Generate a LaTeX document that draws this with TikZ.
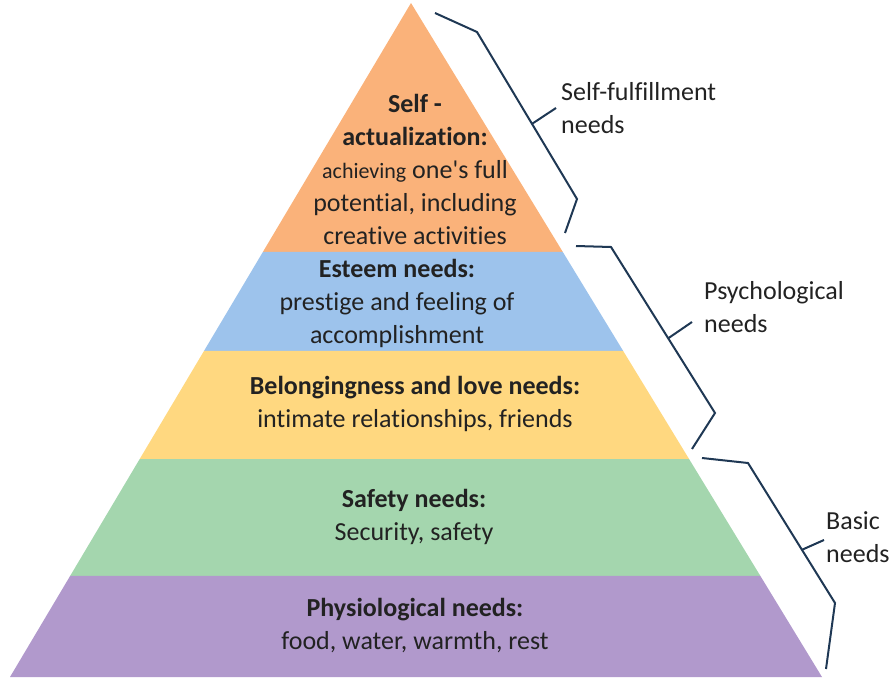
\documentclass[tikz,border=0pt]{standalone}
\usepackage{fontspec}
\setmainfont{Carlito}[Ligatures={NoCommon,TeXOff}]
\usetikzlibrary{calc}

\definecolor{selfcol}{RGB}{250,178,122}
\definecolor{esteemcol}{RGB}{157,195,236}
\definecolor{lovecol}{RGB}{255,216,128}
\definecolor{safecol}{RGB}{164,214,174}
\definecolor{physcol}{RGB}{177,153,204}
\definecolor{bracecol}{RGB}{31,56,84}
\definecolor{textcol}{RGB}{34,34,34}

\begin{document}
\begin{tikzpicture}[x=1pt, y=-1pt,
    layer/.style={align=center, text=textcol, font=\fontsize{26}{33}\selectfont},
    group/.style={align=left, anchor=west, inner sep=0pt, text=textcol, font=\fontsize{26}{33}\selectfont},
    brace/.style={draw=bracecol, line width=2pt, line join=miter}]
    \useasboundingbox (0,0) rectangle (891,679);

    % corners of the pyramid
    \coordinate (apex) at (411,3);
    \coordinate (bl) at (10,677);
    \coordinate (br) at (822,677);

    % layer boundaries (fraction of the height, from the apex)
    \foreach \name/\t in {a/0.3694, b/0.5163, c/0.6766, d/0.8501}{
        \coordinate (L\name) at ($(apex)!\t!(bl)$);
        \coordinate (R\name) at ($(apex)!\t!(br)$);
    }

    % layers, top to bottom
    \fill[selfcol] (apex) -- (Ra) -- (La) -- cycle;
    \fill[esteemcol] (La) -- (Ra) -- (Rb) -- (Lb) -- cycle;
    \fill[lovecol] (Lb) -- (Rb) -- (Rc) -- (Lc) -- cycle;
    \fill[safecol] (Lc) -- (Rc) -- (Rd) -- (Ld) -- cycle;
    \fill[physcol] (Ld) -- (Rd) -- (br) -- (bl) -- cycle;

    % texts in the layers
    \node[layer] (self) at (415,169) {\textbf{Self -}\\ \textbf{actualization:}\\ {\fontsize{22}{33}\selectfont achieving} one's full\\ potential, including\\ creative activities};
    \node[layer] (esteem) at (397,303) {\textbf{Esteem needs:}\\ prestige and feeling of\\ accomplishment};
    \node[layer] (love) at (415,404) {\textbf{Belongingness and love needs:}\\ intimate relationships, friends};
    \node[layer] (safety) at (414,517) {\textbf{Safety needs:}\\ Security, safety};
    \node[layer] (phys) at (415,626) {\textbf{Physiological needs:}\\ food, water, warmth, rest};

    % bracket: self-fulfillment needs
    \coordinate (s1) at (435,13);
    \coordinate (s2) at (477,32);
    \coordinate (s3) at (577,199);
    \coordinate (s4) at (565,233);
    \draw[brace] (s1) -- (s2) -- (s3) -- (s4);
    \draw[brace] ($(s2)!0.55!(s3)$) -- (556,108);
    \node[group] (selfful) at (561,108) {Self-fulfillment\\needs};

    % bracket: psychological needs
    \coordinate (p1) at (576,246);
    \coordinate (p2) at (611,247);
    \coordinate (p3) at (715,413);
    \coordinate (p4) at (692,449);
    \draw[brace] (p1) -- (p2) -- (p3) -- (p4);
    \draw[brace] ($(p2)!0.55!(p3)$) -- (692,322);
    \node[group] (psych) at (704,307) {Psychological\\needs};

    % bracket: basic needs
    \coordinate (b1) at (702,458);
    \coordinate (b2) at (748,463);
    \coordinate (b3) at (835,603);
    \coordinate (b4) at (826,669);
    \draw[brace] (b1) -- (b2) -- (b3) -- (b4);
    \draw[brace] ($(b2)!0.62!(b3)$) -- (824,540);
    \node[group] (basic) at (826,537) {Basic\\needs};
\end{tikzpicture}
\end{document}
